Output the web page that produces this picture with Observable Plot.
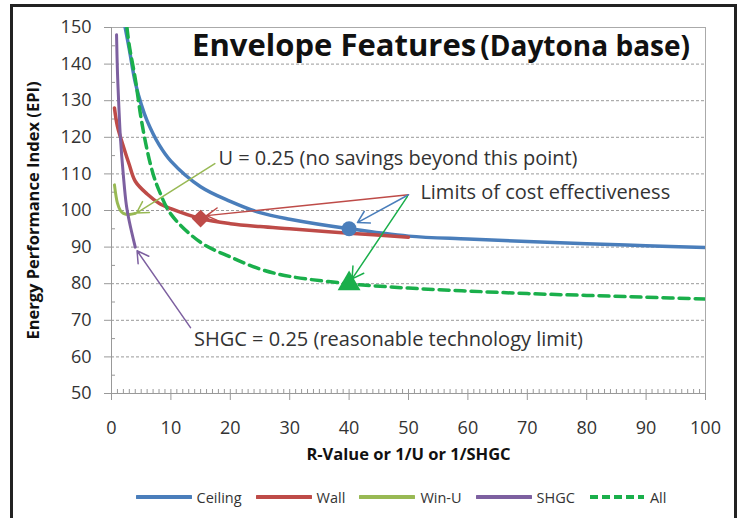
<!DOCTYPE html>
<html>
<head>
<meta charset="utf-8">
<script src="https://cdn.jsdelivr.net/npm/d3@7"></script>
<script src="https://cdn.jsdelivr.net/npm/@observablehq/plot@0.6"></script>
<style>
  html, body { margin: 0; padding: 0; background: #fff; }
  #wrap { position: relative; width: 742px; height: 518px; overflow: hidden; font-family: "Open Sans", sans-serif; }
  #border { position: absolute; left: 10px; top: 4px; width: 721px; height: 600px; border: 3px solid #222; }
  #title { position: absolute; right: 52px; top: 22px; line-height: 44px; font-weight: bold; color: #111; white-space: nowrap; }
  #legend { position: absolute; left: 30px; width: 742px; top: 486px; height: 22px; display: flex; justify-content: center; align-items: center; font-size: 14.5px; color: #333; }
  .item { display: flex; align-items: center; margin: 0 7px; }
  .item svg { margin-right: 5px; }
</style>
</head>
<body>
<div id="wrap">
  <div id="chart"></div>
  <div id="title"><span style="font-size:31px">Envelope Features</span> <span style="font-size:28px">(Daytona base)</span></div>
  <div id="legend"></div>
  <div id="border"></div>
</div>
<script>
// ---- data ----
const ceilingX = [2.3, 3, 4, 5, 6, 8, 10, 15, 20, 25, 30, 40, 50, 60, 70, 80, 90, 100];
const ceilingY = [150, 144, 135, 129, 124.5, 118, 113.5, 106.5, 102.5, 99.4, 97.6, 95, 93, 92.2, 91.5, 90.9, 90.4, 89.9];
const wallX = [0.5, 1, 2, 3, 4, 6, 8, 10, 15, 20, 25, 30, 40, 50];
const wallY = [128, 123, 117.5, 112.5, 108, 104.5, 102, 100.5, 97.8, 96.4, 95.6, 95, 93.8, 92.7];
const winUX = [0.5, 1, 1.5, 2, 3, 4];
const winUY = [107, 102, 100, 99.2, 98.9, 99.2];
const shgcX = [0.85, 1, 1.25, 1.5, 2, 2.5, 3, 4];
const shgcY = [148, 138, 128, 120, 109.5, 101.5, 97, 90];
const allX = [2.6, 3, 4, 5, 6, 7, 8, 10, 15, 20, 25, 30, 40, 50, 60, 70, 80, 90, 100];
const allY = [150, 145, 136, 125, 116.5, 110, 105.5, 99, 91.3, 87.3, 84, 82, 80, 78.8, 78, 77.3, 76.8, 76.3, 75.8];

const seriesNames = ["Ceiling", "Wall", "Win-U", "SHGC", "All"];
const seriesColors = ["#4a7ebb", "#be4b48", "#98b954", "#7d60a0", "#1aaf4b"];

// limit markers
const markerSeries = ["Wall", "Ceiling", "All"];
const markerX = [15, 40, 40];
const markerY = [97.8, 95, 80];

// annotations
const noteText = ["U = 0.25 (no savings beyond this point)", "Limits of cost effectiveness", "SHGC = 0.25 (reasonable technology limit)"];
const noteX = [18, 52, 13.9];
const noteY = [114.3, 104.8, 64.7];

const arrowSeries = ["Win-U", "Wall", "Ceiling", "All", "SHGC"];
const arrowX1 = [17.4, 50, 50, 49.8, 13.3];
const arrowY1 = [112.8, 104.3, 104.3, 103.8, 68];
const arrowX2 = [4.2, 16, 41.4, 40.5, 4.3];
const arrowY2 = [99.3, 98.6, 96.7, 81.3, 89];

const xTicks = [0, 10, 20, 30, 40, 50, 60, 70, 80, 90, 100];
const xMinor = d3.range(1, 100);
const yTicks = [50, 60, 70, 80, 90, 100, 110, 120, 130, 140, 150];
const yMinor = [55, 65, 75, 85, 95, 105, 115, 125, 135, 145];
const gridTicks = [60, 70, 80, 90, 100, 110, 120, 130, 140];

// ---- build ----
const color = name => seriesColors[seriesNames.indexOf(name)];
const toRows = (name, xs, ys) => xs.map((x, i) => ({series: name, x, y: ys[i]}));
const curves = [
  {name: "Ceiling", rows: toRows("Ceiling", ceilingX, ceilingY), w: 3.5},
  {name: "Wall", rows: toRows("Wall", wallX, wallY), w: 3.5},
  {name: "Win-U", rows: toRows("Win-U", winUX, winUY), w: 3},
  {name: "SHGC", rows: toRows("SHGC", shgcX, shgcY), w: 3},
  {name: "All", rows: toRows("All", allX, allY), w: 3.5, dash: "10,6"}
];
const markers = markerSeries.map((s, i) => ({series: s, x: markerX[i], y: markerY[i]}));
const symbols = {Wall: "diamond2", Ceiling: "circle", All: "triangle"};
const sizes = {Wall: 8, Ceiling: 7.5, All: 8.5};
const notes = noteText.map((t, i) => ({t, x: noteX[i], y: noteY[i]}));
const arrows = arrowSeries.map((s, i) => ({s, x1: arrowX1[i], y1: arrowY1[i], x2: arrowX2[i], y2: arrowY2[i]}));

const chart = Plot.plot({
  width: 742,
  height: 470,
  marginLeft: 111,
  marginRight: 37,
  marginTop: 27,
  marginBottom: 77,
  x: {domain: [0, 100]},
  y: {domain: [50, 150]},
  style: {fontFamily: "'Open Sans', sans-serif", background: "transparent"},
  marks: [
    Plot.gridY(gridTicks, {stroke: "#999", strokeOpacity: 1, strokeDasharray: "3,2"}),
    Plot.frame({anchor: "top", stroke: "#aaa"}),
    Plot.frame({anchor: "right", stroke: "#aaa"}),
    Plot.ruleX([0], {stroke: "#999"}),
    Plot.ruleY([50], {stroke: "#999"}),
    Plot.axisY({ticks: yTicks, tickSize: 7, tickPadding: 13, fontSize: 18, label: null, stroke: "#999", fill: "#333"}),
    Plot.axisY({ticks: yMinor, tickSize: -4, tickFormat: () => "", label: null, stroke: "#999"}),
    Plot.axisX({ticks: xTicks, tickSize: 7, tickPadding: 21, fontSize: 18, label: null, stroke: "#999", fill: "#333"}),
    Plot.axisX({ticks: xMinor, tickSize: -4, tickFormat: () => "", label: null, stroke: "#999"}),
    Plot.text(["Energy Performance Index (EPI)"], {frameAnchor: "left", textAnchor: "middle", rotate: -90, dx: -78, fontSize: 16.5, fontWeight: "bold", fill: "#111"}),
    Plot.text(["R-Value or 1/U or 1/SHGC"], {frameAnchor: "bottom", textAnchor: "middle", dy: 66, fontSize: 16.5, fontWeight: "bold", fill: "#111"}),
    ...curves.map(c => Plot.line(c.rows, {x: "x", y: "y", stroke: color(c.name), strokeWidth: c.w, curve: "catmull-rom", strokeDasharray: c.dash, clip: true})),
    ...markers.map(m => Plot.dot([m], {x: "x", y: "y", symbol: symbols[m.series], r: sizes[m.series], fill: color(m.series), stroke: "none"})),
    Plot.arrow(arrows, {x1: "x1", y1: "y1", x2: "x2", y2: "y2", stroke: d => color(d.s), strokeWidth: 1.5, headLength: 13}),
    Plot.text(notes, {x: "x", y: "y", text: "t", textAnchor: "start", fontSize: 20, fill: "#333"})
  ]
});
document.getElementById("chart").appendChild(chart);

// legend
const legend = d3.select("#legend");
seriesNames.forEach((name, i) => {
  const item = legend.append("div").attr("class", "item");
  const svg = item.append("svg").attr("width", 56).attr("height", 8);
  svg.append("line").attr("x1", 1).attr("x2", 55).attr("y1", 4).attr("y2", 4)
    .attr("stroke", seriesColors[i]).attr("stroke-width", 4)
    .attr("stroke-linecap", name === "All" ? "butt" : "round")
    .attr("stroke-dasharray", name === "All" ? "8,4" : null);
  item.append("span").text(name);
});
</script>
</body>
</html>
